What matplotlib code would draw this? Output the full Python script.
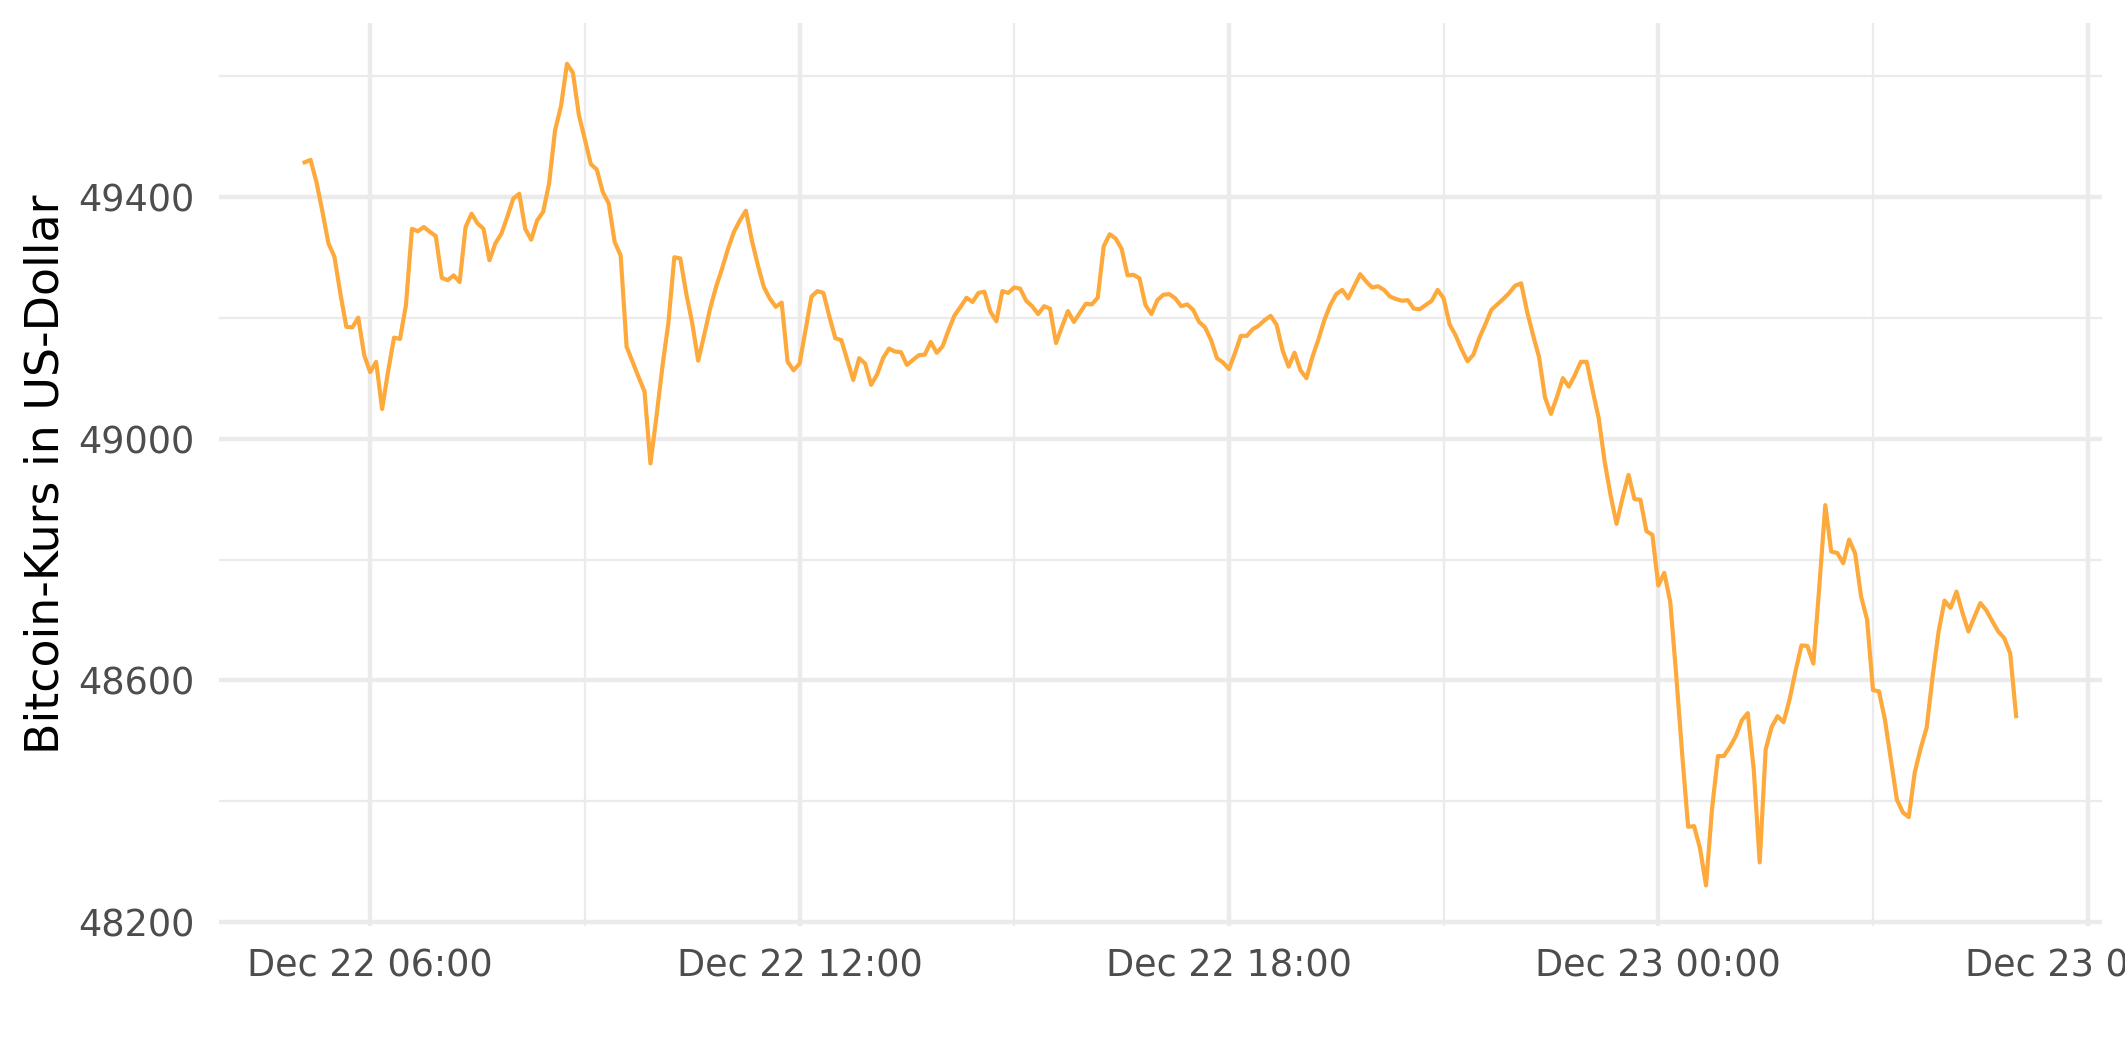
import pandas as pd
import matplotlib
matplotlib.use("Agg")
import matplotlib.pyplot as plt
import matplotlib.dates as mdates

# 5-minute bitcoin prices, Dec 22 05:05 -> Dec 23 05:00
start = "2021-12-22 05:05"
prices = [
    49457, 49461, 49424, 49375, 49323, 49301, 49240, 49185, 49184, 49200,
    49138, 49110, 49127, 49049, 49111, 49167, 49165, 49221, 49347, 49343,
    49350, 49342, 49335, 49266, 49262, 49270, 49259, 49350, 49372, 49356,
    49347, 49295, 49323, 49339, 49367, 49397, 49405, 49347, 49329, 49361,
    49375, 49422, 49510, 49550, 49620, 49605, 49535, 49495, 49454, 49445,
    49408, 49389, 49325, 49303, 49152, 49127, 49102, 49078, 48959, 49036,
    49119, 49191, 49300, 49298, 49240, 49191, 49129, 49171, 49215, 49251,
    49281, 49314, 49342, 49361, 49377, 49328, 49287, 49251, 49232, 49218,
    49225, 49127, 49113, 49124, 49180, 49235, 49244, 49241, 49202, 49166,
    49163, 49130, 49097, 49133, 49124, 49089, 49106, 49133, 49149, 49144,
    49143, 49122, 49130, 49138, 49139, 49160, 49142, 49153, 49180, 49204,
    49218, 49233, 49226, 49241, 49243, 49210, 49194, 49244, 49241, 49250,
    49248, 49228, 49219, 49206, 49219, 49215, 49158, 49185, 49211, 49193,
    49208, 49223, 49222, 49233, 49318, 49338, 49331, 49314, 49270, 49271,
    49265, 49221, 49206, 49229, 49238, 49239, 49232, 49219, 49222, 49213,
    49193, 49184, 49163, 49133, 49126, 49115, 49141, 49170, 49170, 49181,
    49187, 49196, 49203, 49188, 49146, 49119, 49142, 49113, 49100, 49135,
    49164, 49196, 49221, 49239, 49246, 49232, 49252, 49272, 49260, 49250,
    49252, 49246, 49235, 49231, 49228, 49229, 49215, 49214, 49221, 49228,
    49246, 49232, 49189, 49171, 49148, 49128, 49139, 49167, 49189, 49213,
    49222, 49231, 49241, 49253, 49257, 49210, 49171, 49135, 49068, 49041,
    49069, 49100, 49086, 49105, 49127, 49127, 49079, 49034, 48962, 48906,
    48859, 48902, 48940, 48900, 48899, 48847, 48841, 48757, 48778, 48730,
    48609, 48478, 48358, 48359, 48322, 48261, 48387, 48475, 48475, 48490,
    48508, 48534, 48546, 48453, 48299, 48486, 48523, 48541, 48531, 48568,
    48615, 48658, 48657, 48628, 48756, 48890, 48813, 48811, 48794, 48833,
    48810, 48739, 48701, 48584, 48582, 48535, 48469, 48403, 48382, 48374,
    48448, 48488, 48522, 48607, 48681, 48732, 48720, 48747, 48712, 48681,
    48705, 48728, 48716, 48698, 48681, 48670, 48645, 48541,
]
y_ticks = [48200, 48600, 49000, 49400]
y_minor = [48400, 48800, 49200, 49600]
y_title = "Bitcoin-Kurs in US-Dollar"

times = pd.date_range(start, periods=len(prices), freq="5min")

grid_col = "#EBEBEB"
text_col = "#4D4D4D"

fig = plt.figure(figsize=(2125 / 300, 1062 / 300), dpi=300)
ax = fig.add_axes([0.10306, 0.12759, 0.88598, 0.85104])

ax.plot(times, prices, color="#FDA93B", lw=1.0, zorder=3)
ax.margins(x=0.05, y=0.05)

ax.xaxis.set_major_locator(mdates.HourLocator(byhour=[0, 6, 12, 18]))
ax.xaxis.set_minor_locator(mdates.HourLocator(byhour=[3, 9, 15, 21]))
ax.xaxis.set_major_formatter(mdates.DateFormatter("%b %d %H:%M"))
ax.set_yticks(y_ticks)
ax.set_yticks(y_minor, minor=True)

ax.grid(which="major", color=grid_col, lw=1.07)
ax.grid(which="minor", color=grid_col, lw=0.53)
ax.set_axisbelow(True)
for s in ax.spines.values():
    s.set_visible(False)

ax.tick_params(axis="both", which="both", length=0, labelsize=8.8, labelcolor=text_col)
ax.tick_params(axis="x", pad=5.0)
ax.tick_params(axis="y", pad=5.8)

fig.text(0.0216, 0.5535, y_title, rotation=90, ha="center", va="center",
         fontsize=11, color="black")

fig.savefig("out.png", dpi=300)
